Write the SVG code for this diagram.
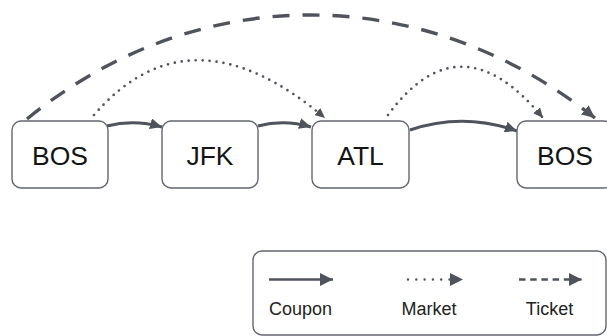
<svg xmlns="http://www.w3.org/2000/svg" width="607" height="336" viewBox="0 0 607 336">
  <defs>
    <style>
      .node rect { fill: #ffffff; stroke: #62666d; stroke-width: 1.4; }
      .node text { font-family: "Liberation Sans", Arial, sans-serif; font-size: 26.5px; fill: #141414; text-anchor: middle; }
      .edge { fill: none; stroke: #4f545c; }
      .coupon { stroke-width: 3; }
      .market { stroke-width: 2.7; stroke-dasharray: 0 7; stroke-linecap: round; }
      .ticket { stroke-width: 3.4; stroke-dasharray: 17 13; }
      .legend-box { fill: #ffffff; stroke: #62666d; stroke-width: 1.4; }
      .legend-text { font-family: "Liberation Sans", Arial, sans-serif; font-size: 18px; fill: #222222; text-anchor: middle; }
    </style>
    <marker id="arrow-solid" viewBox="0 0 12 11" refX="12" refY="5.5" markerWidth="12" markerHeight="11" markerUnits="userSpaceOnUse" orient="auto">
      <path d="M0,0 L12,5.5 L0,11 Z" fill="#4f545c"/>
    </marker>
    <marker id="arrow-dot" viewBox="0 0 10 9" refX="10" refY="4.5" markerWidth="10" markerHeight="9" markerUnits="userSpaceOnUse" orient="auto">
      <path d="M0,0 L10,4.5 L0,9 Z" fill="#4f545c"/>
    </marker>
    <marker id="arrow-dash" viewBox="0 0 13 12" refX="13" refY="6" markerWidth="13" markerHeight="12" markerUnits="userSpaceOnUse" orient="auto">
      <path d="M0,0 L13,6 L0,12 Z" fill="#4f545c"/>
    </marker>
    <marker id="arrow-legend" viewBox="0 0 13 13" refX="13" refY="6.5" markerWidth="13" markerHeight="13" markerUnits="userSpaceOnUse" orient="auto">
      <path d="M0,0 L13,6.5 L0,13 Z" fill="#4f545c"/>
    </marker>
  </defs>

  <rect width="607" height="336" fill="#ffffff"/>

  <!-- connectors -->
  <g id="connectors">
    <path class="edge ticket" d="M27,119 C197,-19.5 422,-19.5 595,118" marker-end="url(#arrow-dash)"/>
    <path class="edge market" d="M94,115 Q190,4 325,118" marker-end="url(#arrow-dot)"/>
    <path class="edge market" d="M388,115 Q460,17 543,118" marker-end="url(#arrow-dot)"/>
    <path class="edge coupon" d="M107,126 Q134,119 162,127" marker-end="url(#arrow-solid)"/>
    <path class="edge coupon" d="M258,126 Q284,119 311,127" marker-end="url(#arrow-solid)"/>
    <path class="edge coupon" d="M410,130 Q463,112 517,131" marker-end="url(#arrow-solid)"/>
  </g>

  <!-- airports -->
  <g id="bos-origin" class="node">
    <rect x="12" y="121" width="96" height="67" rx="9"/>
    <text x="60" y="164.5">BOS</text>
  </g>
  <g id="jfk" class="node">
    <rect x="162" y="121" width="96" height="67" rx="9"/>
    <text x="210" y="164.5">JFK</text>
  </g>
  <g id="atl" class="node">
    <rect x="312" y="121" width="97" height="67" rx="9"/>
    <text x="360.5" y="164.5">ATL</text>
  </g>
  <g id="bos-destination" class="node">
    <rect x="517" y="121" width="96" height="67" rx="9"/>
    <text x="565" y="164.5">BOS</text>
  </g>

  <!-- legend -->
  <g id="legend">
    <rect class="legend-box" x="253" y="251" width="353" height="84" rx="9"/>
    <path class="edge" d="M269,279.5 L333,279.5" stroke-width="2.7" marker-end="url(#arrow-legend)"/>
    <path class="edge" d="M408,279.5 L463,279.5" stroke-width="2.4" stroke-dasharray="0 8.3" stroke-linecap="round" marker-end="url(#arrow-legend)"/>
    <path class="edge" d="M519,279.5 L582,279.5" stroke-width="2.7" stroke-dasharray="6.5 4.7" marker-end="url(#arrow-legend)"/>
    <text class="legend-text" x="300.5" y="314.5">Coupon</text>
    <text class="legend-text" x="429" y="314.5">Market</text>
    <text class="legend-text" x="549.5" y="314.5">Ticket</text>
  </g>
</svg>
